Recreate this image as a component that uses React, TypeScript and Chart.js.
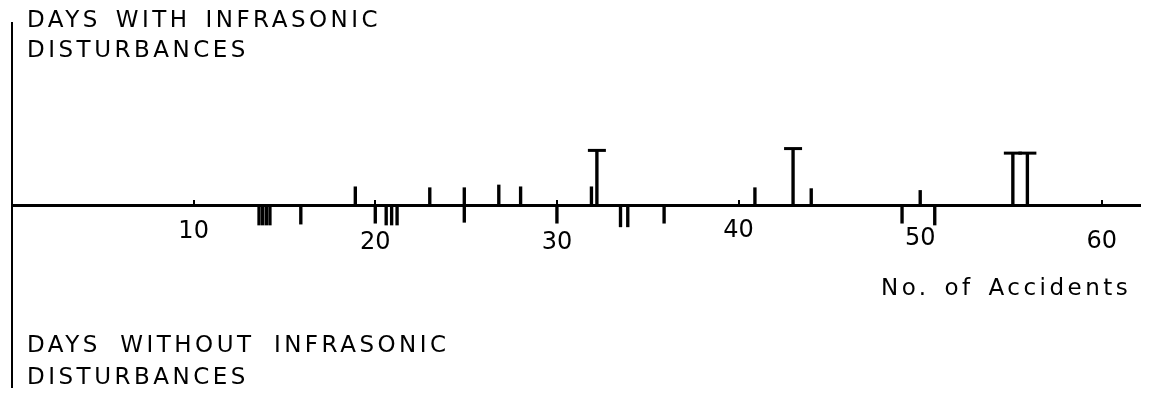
import React, { useEffect, useRef } from 'react';
import { Chart, registerables } from 'chart.js';

Chart.register(...registerables);

// Days WITH infrasonic disturbances: number of accidents (x) and mark height
const withX = [18.9, 23.0, 24.9, 26.8, 28.0, 31.9, 32.2, 40.9, 43.0, 44.0, 50.0, 55.1, 55.9];
const withH = [1.0, 0.95, 0.95, 1.1, 1.0, 1.0, 3.0, 0.95, 3.1, 0.9, 0.8, 2.85, 2.85];
// Tall capped ("T") marks among the days with disturbances
const capX = [32.2, 43.0, 55.1, 55.9];
const capH = [3.0, 3.1, 2.85, 2.85];
// Days WITHOUT infrasonic disturbances
const withoutX = [13.6, 13.8, 14.0, 14.2, 15.9, 20.0, 20.6, 20.9, 21.2, 24.9, 30.0, 33.5, 33.9, 35.9, 49.0, 50.8];
const withoutH = [1.1, 1.1, 1.1, 1.1, 1.05, 1.0, 1.1, 1.1, 1.1, 0.95, 1.0, 1.2, 1.2, 1.0, 1.0, 1.1];
// Axis tick labels
const tickValues = [10, 20, 30, 40, 50, 60];

const FONT = 'DejaVu Sans';
// vertical stagger of tick labels (style only)
const labelLine: Record<number, number> = { 10: 54, 20: 76, 30: 76, 40: 52, 50: 68, 60: 74 };

export default function App() {
  const ref = useRef<HTMLCanvasElement | null>(null);

  useEffect(() => {
    if (!ref.current) return;
    const chart = new Chart(ref.current, {
      type: 'bar',
      data: {
        datasets: [
          {
            label: 'Days with infrasonic disturbances',
            data: withX.map((x, i) => ({ x, y: withH[i] })),
            backgroundColor: '#000',
            barThickness: 2.7,
            grouped: false,
          } as any,
          {
            label: 'Days without infrasonic disturbances',
            data: withoutX.map((x, i) => ({ x, y: -withoutH[i] })),
            backgroundColor: '#000',
            barThickness: 2.7,
            grouped: false,
          } as any,
          {
            type: 'scatter',
            label: 'caps',
            data: capX.map((x, i) => ({ x, y: capH[i] })),
            pointStyle: 'line',
            pointRadius: 9,
            borderColor: '#000',
            borderWidth: 3,
            showLine: false,
          } as any,
        ],
      },
      options: {
        animation: false,
        responsive: true,
        maintainAspectRatio: false,
        layout: { padding: { top: 23, bottom: 15, left: 9, right: 11 } },
        plugins: {
          legend: { display: false },
          tooltip: { enabled: false },
        },
        scales: {
          x: {
            type: 'linear',
            min: 0,
            max: 62.1,
            offset: false,
            position: { y: 0 } as any,
            grid: {
              display: true,
              drawOnChartArea: false,
              drawTicks: true,
              tickLength: -7,
              color: '#000',
              lineWidth: 2,
              offset: false,
            },
            border: { display: true, color: '#000', width: 3 },
            afterBuildTicks: (s: any) => {
              s.ticks = [0, ...tickValues].map((v) => ({ value: v }));
            },
            ticks: {
              autoSkip: false,
              maxRotation: 0,
              minRotation: 0,
              padding: 7,
              color: '#000',
              callback: (v: any) => (tickValues.includes(Number(v)) ? String(v) : ''),
              font: (ctx: any) => ({
                family: FONT,
                size: 24,
                lineHeight: `${labelLine[ctx.tick?.value] ?? 54}px`,
              }),
            },
          },
          y: {
            type: 'linear',
            min: -10,
            max: 10,
            position: 'left',
            grid: { display: true, drawOnChartArea: false, drawTicks: false },
            ticks: { display: false },
            border: { display: true, color: '#000', width: 2 },
            afterFit: (s: any) => {
              s.width = 0;
            },
          },
        },
      } as any,
    });
    return () => chart.destroy();
  }, []);

  const textStyle: React.CSSProperties = {
    position: 'absolute',
    fontFamily: FONT,
    fontSize: 23,
    letterSpacing: '3.5px',
    wordSpacing: '4px',
    color: '#000',
    whiteSpace: 'nowrap',
    margin: 0,
  };

  return (
    <div style={{ position: 'absolute', left: 0, top: 0, width: 1152, height: 402, background: '#fff' }}>
      <canvas ref={ref} />
      <div style={{ ...textStyle, left: 27, top: 3.8, lineHeight: '30px' }}>
        DAYS WITH INFRASONIC
        <br />
        DISTURBANCES
      </div>
      <div style={{ ...textStyle, left: 27, top: 327.8, lineHeight: '32px', wordSpacing: '8.5px' }}>
        DAYS WITHOUT INFRASONIC
        <br />
        DISTURBANCES
      </div>
      <div style={{ ...textStyle, left: 881, top: 275.6, lineHeight: '23px' }}>No. of Accidents</div>
    </div>
  );
}
